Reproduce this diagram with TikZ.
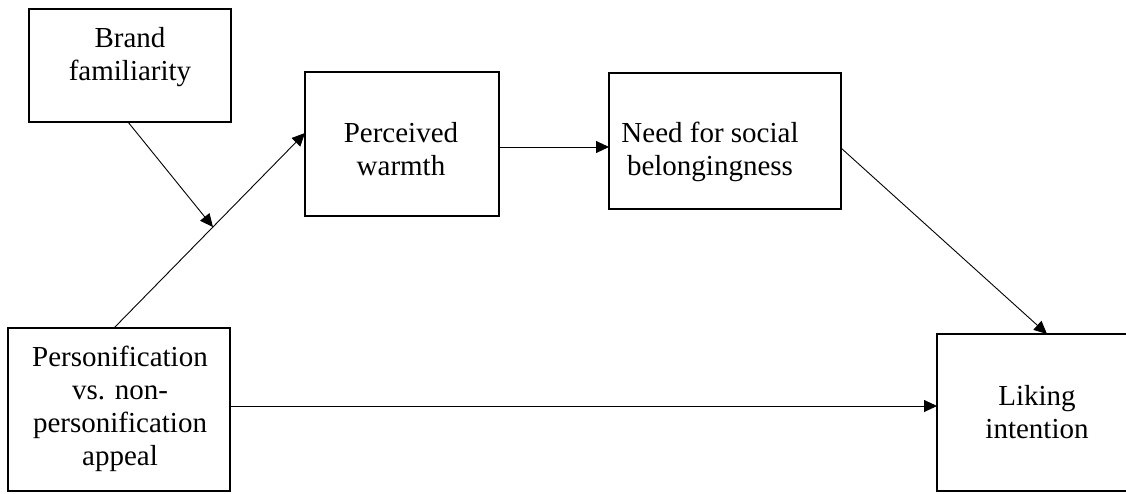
\documentclass[tikz,border=0pt]{standalone}
\usepackage{fontspec}
\setmainfont{Liberation Serif}
\usetikzlibrary{arrows.meta}
\begin{document}
\begin{tikzpicture}[x=1pt,y=-1pt,
  box/.style={draw, line width=1.6pt, rectangle, inner sep=0pt, outer sep=0pt},
  label/.style={anchor=base, align=center, inner sep=0pt,
    font=\fontsize{29}{33}\selectfont},
  link/.style={line width=0.9pt, -{Triangle[length=13pt,width=12pt]}}]
\useasboundingbox (0,0) rectangle (1126,493);
\clip (0,0) rectangle (1126,493);
\fill[white] (0,0) rectangle (1126,493);

% boxes
\node[box, minimum width=202pt, minimum height=113pt] (brand) at (130,65.5) {};
\node[box, minimum width=194pt, minimum height=144pt] (warm) at (402,144) {};
\node[box, minimum width=232pt, minimum height=136pt] (need) at (725,141) {};
\node[box, minimum width=222pt, minimum height=163pt] (pers) at (119,409.5) {};
\node[box, minimum width=200pt, minimum height=157pt] (like) at (1037,412.5) {};

% box texts (placed by the baseline of their last line)
\node[label] (brandtxt) at (130,80) {Brand\\familiarity};
\node[label] (warmtxt) at (401,175) {Perceived\\warmth};
\node[label] (needtxt) at (710,175) {Need for social\\belongingness};
\node[label] (perstxt) at (120,465) {Personification\\vs. non-\\personification\\appeal};
\node[label] (liketxt) at (1037,438) {Liking\\intention};

% connectors
\coordinate (pa) at ([xshift=-5pt]pers.north);
\coordinate (wa) at ([yshift=11pt]warm.west);
\draw[link] (pa) -- (wa) coordinate[pos=0.518] (mod);
\draw[link] ([xshift=-2pt]brand.south) -- (mod);
\draw[link] ([yshift=-3pt]warm.east) -- ([yshift=-6pt]need.west);
\draw[link] ([yshift=-7pt]need.east) -- ([xshift=10pt]like.north);
\draw[link] ([yshift=3.5pt]pers.east) -- ([yshift=6.5pt]like.west);
\end{tikzpicture}
\end{document}
